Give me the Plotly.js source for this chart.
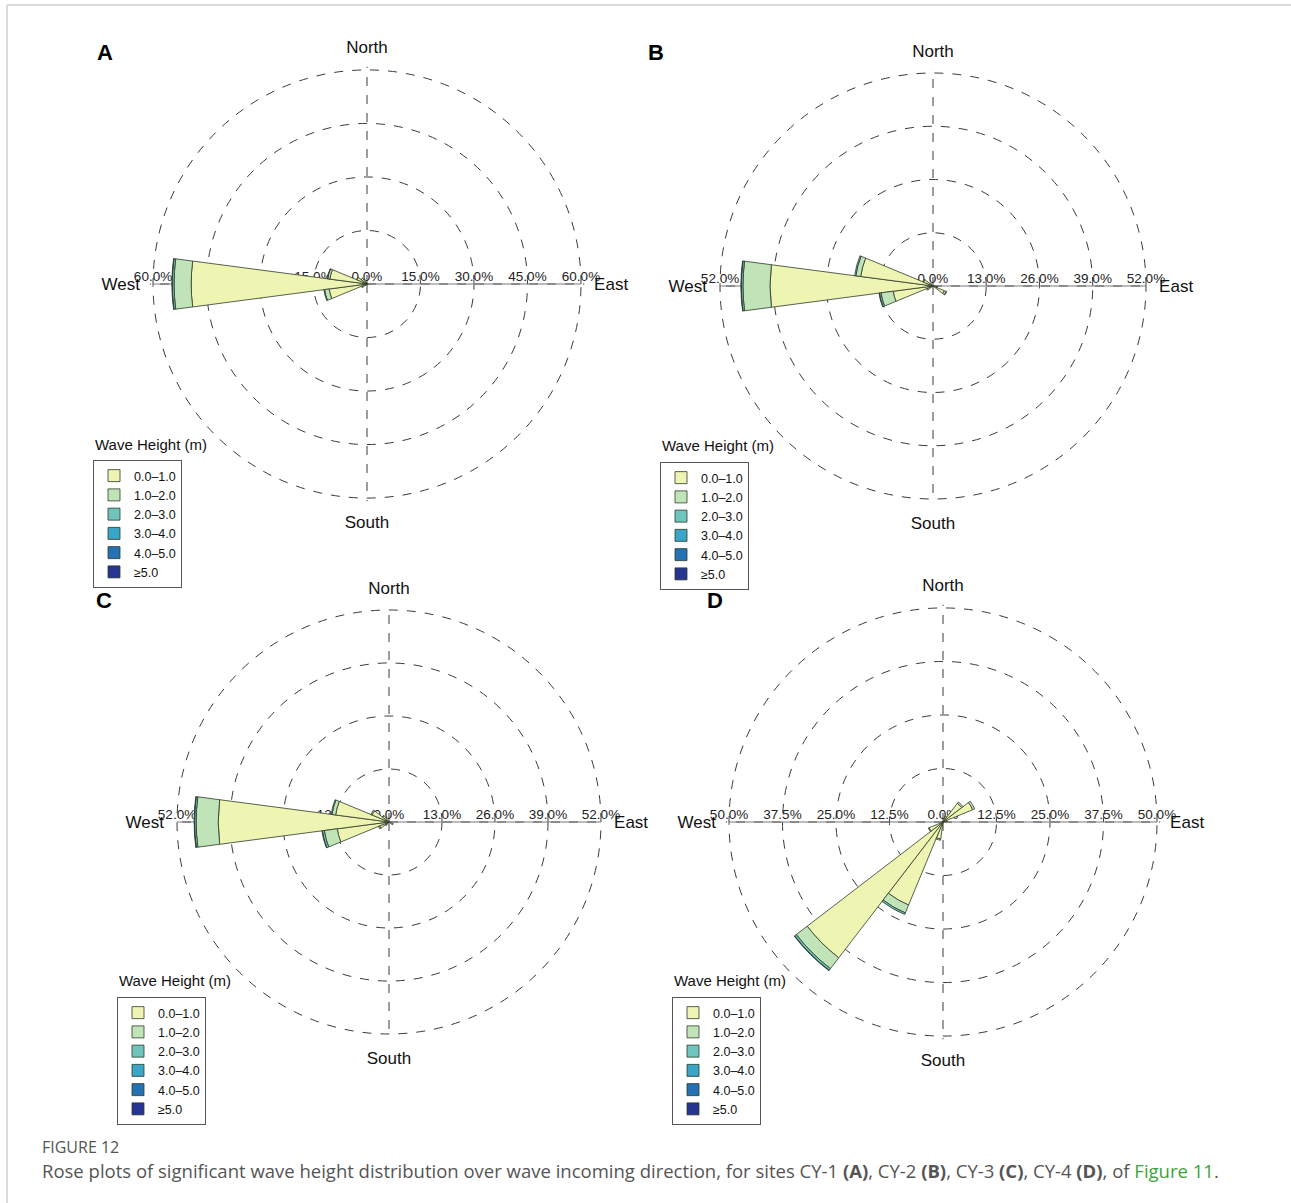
<!DOCTYPE html>
<html>
<head>
<meta charset="utf-8">
<script src="https://cdn.plot.ly/plotly-3.0.1.min.js"></script>
<style>
html,body{margin:0;padding:0;background:#fff;}
#chart{width:1291px;height:1203px;}
</style>
</head>
<body>
<div id="chart"></div>
<script>
// ---------------- DATA ----------------
const classLabels = ['0.0–1.0', '1.0–2.0', '2.0–3.0', '3.0–4.0', '4.0–5.0', '≥5.0'];
const directionLabels = ['North', 'East', 'South', 'West'];
const directionAngles = [0, 90, 180, 270];

// Site CY-1 (A)
const dirA = [225, 240, 255, 270, 285, 300, 315, 330, 105];
const A_h1 = [0.6, 1.5, 10.7, 49.3, 10.5, 3.0, 2.0, 0.7, 0.4];
const A_h2 = [0.0, 0.2, 1.3, 4.8, 0.6, 0.2, 0.1, 0.0, 0.0];
const A_h3 = [0.0, 0.0, 0.2, 0.5, 0.1, 0.0, 0.0, 0.0, 0.0];
const A_h4 = [0.0, 0.0, 0.0, 0.1, 0.0, 0.0, 0.0, 0.0, 0.0];
const A_h5 = [0, 0, 0, 0, 0, 0, 0, 0, 0];
const A_h6 = [0, 0, 0, 0, 0, 0, 0, 0, 0];
const A_ticks = [15, 30, 45, 60];

// Site CY-2 (B)
const dirB = [240, 255, 270, 285, 300, 315, 105, 120];
const B_h1 = [1.5, 9.8, 39.8, 17.8, 2.5, 1.0, 1.0, 3.0];
const B_h2 = [0.2, 3.0, 6.6, 1.2, 0.2, 0.0, 0.1, 0.5];
const B_h3 = [0.0, 0.4, 0.4, 0.3, 0.0, 0.0, 0.0, 0.1];
const B_h4 = [0.0, 0.1, 0.1, 0.0, 0.0, 0.0, 0.0, 0.0];
const B_h5 = [0, 0, 0, 0, 0, 0, 0, 0];
const B_h6 = [0, 0, 0, 0, 0, 0, 0, 0];
const B_ticks = [13, 26, 39, 52];

// Site CY-3 (C)
const dirC = [225, 240, 255, 270, 285, 300, 315, 120];
const C_h1 = [1.0, 2.5, 12.8, 41.9, 13.2, 4.5, 2.0, 1.0];
const C_h2 = [0.1, 0.3, 3.2, 5.4, 0.9, 0.3, 0.1, 0.1];
const C_h3 = [0.0, 0.0, 0.5, 0.4, 0.2, 0.0, 0.0, 0.0];
const C_h4 = [0.0, 0.0, 0.1, 0.1, 0.0, 0.0, 0.0, 0.0];
const C_h5 = [0, 0, 0, 0, 0, 0, 0, 0];
const C_h6 = [0, 0, 0, 0, 0, 0, 0, 0];
const C_ticks = [13, 26, 39, 52];

// Site CY-4 (D)
const dirD = [30, 45, 60, 75, 195, 210, 225, 240];
const D_h1 = [1.5, 5.5, 7.5, 1.0, 4.0, 21.0, 40.0, 3.5];
const D_h2 = [0.0, 0.4, 0.5, 0.0, 0.3, 2.0, 3.2, 0.2];
const D_h3 = [0.0, 0.0, 0.0, 0.0, 0.0, 0.4, 0.5, 0.0];
const D_h4 = [0.0, 0.0, 0.0, 0.0, 0.0, 0.0, 0.1, 0.0];
const D_h5 = [0, 0, 0, 0, 0, 0, 0, 0];
const D_h6 = [0, 0, 0, 0, 0, 0, 0, 0];
const D_ticks = [12.5, 25, 37.5, 50];

// ---------------- STYLE ----------------
const classColors = ['#eef5b2', '#c0e4b8', '#6fc5bd', '#3aa5c6', '#2471b3', '#263492'];
const W = 1291, H = 1203;
const FONT = 'Liberation Sans, Arial, sans-serif';
const PADF = 1.015; // lets the outermost dashed ring fall inside the radial range

const panels = [
  {id: 'A', dirs: dirA, h: [A_h1, A_h2, A_h3, A_h4, A_h5, A_h6], ticks: A_ticks, cx: 367, cy: 284, R: 214, legXY: [93, 460], letterXY: [105, 52]},
  {id: 'B', dirs: dirB, h: [B_h1, B_h2, B_h3, B_h4, B_h5, B_h6], ticks: B_ticks, cx: 933, cy: 286, R: 213, legXY: [660, 462], letterXY: [656, 52]},
  {id: 'C', dirs: dirC, h: [C_h1, C_h2, C_h3, C_h4, C_h5, C_h6], ticks: C_ticks, cx: 389, cy: 822, R: 212, legXY: [117, 997], letterXY: [104, 601]},
  {id: 'D', dirs: dirD, h: [D_h1, D_h2, D_h3, D_h4, D_h5, D_h6], ticks: D_ticks, cx: 943, cy: 822, R: 214, legXY: [672, 997], letterXY: [715, 601]}
];

const fx = px => px / W;
const fy = py => 1 - py / H;
const fmt = v => v.toFixed(1) + '%';

const underTraces = [];
const barTraces = [];
const layout = {
  width: W, height: H,
  margin: {l: 0, r: 0, t: 0, b: 0},
  paper_bgcolor: '#ffffff',
  font: {family: FONT, color: '#111'},
  annotations: [],
  shapes: [
    {type: 'line', xref: 'paper', yref: 'paper', x0: fx(7), x1: 1, y0: fy(5), y1: fy(5), line: {color: '#cfcfcf', width: 1.5}},
    {type: 'line', xref: 'paper', yref: 'paper', x0: fx(7), x1: fx(7), y0: fy(5), y1: 0, line: {color: '#cfcfcf', width: 1.5}}
  ]
};

panels.forEach((p, i) => {
  const uid = i === 0 ? 'polar' : 'polar' + (i + 1);   // underlay: rings, labels, axis line
  const bid = 'polar' + (i + 5);                         // bars on top
  const lid = i === 0 ? 'legend' : 'legend' + (i + 1);
  const rmax = p.ticks[p.ticks.length - 1];
  const Rp = p.R * PADF;
  const domain = {x: [fx(p.cx - Rp), fx(p.cx + Rp)], y: [fy(p.cy + Rp), fy(p.cy - Rp)]};

  layout[uid] = {
    domain: domain,
    bgcolor: 'rgba(0,0,0,0)',
    radialaxis: {
      range: [0, rmax * PADF], tickvals: p.ticks, showticklabels: false, ticks: '',
      showline: false, showgrid: true, gridcolor: '#3a3a3a', gridwidth: 1, griddash: 'dash'
    },
    angularaxis: {
      direction: 'clockwise', rotation: 90,
      tickvals: directionAngles, ticktext: directionLabels,
      ticks: 'outside', ticklen: 6, tickcolor: 'rgba(0,0,0,0)',
      showline: false, showgrid: true, gridcolor: '#3a3a3a', gridwidth: 1, griddash: 'dash',
      tickfont: {size: 17, color: '#111', family: FONT}
    }
  };
  layout[bid] = {
    domain: domain,
    bgcolor: 'rgba(0,0,0,0)',
    barmode: 'stack',
    bargap: 0,
    radialaxis: {range: [0, rmax * PADF], visible: false, showgrid: false, showline: false, showticklabels: false, ticks: ''},
    angularaxis: {direction: 'clockwise', rotation: 90, showgrid: false, showline: false, showticklabels: false, ticks: ''}
  };

  // solid east-west axis line
  underTraces.push({
    type: 'scatterpolar', subplot: uid, mode: 'lines',
    r: [rmax, 0, rmax], theta: [270, 0, 90],
    line: {color: '#7a7a7a', width: 1.2},
    hoverinfo: 'skip', showlegend: false
  });

  // radial tick labels on both sides
  const labR = [0].concat(p.ticks, p.ticks);
  const labT = [0].concat(p.ticks.map(() => 90), p.ticks.map(() => 270));
  underTraces.push({
    type: 'scatterpolar', subplot: uid, mode: 'text',
    r: labR, theta: labT, text: labR.map(fmt),
    textposition: 'top center',
    textfont: {size: 13.5, color: '#222', family: FONT},
    hoverinfo: 'skip', showlegend: false
  });

  // stacked bars
  for (let k = 0; k < 6; k++) {
    barTraces.push({
      type: 'barpolar', subplot: bid, legend: lid,
      name: classLabels[k],
      r: p.h[k], theta: p.dirs, width: 15,
      marker: {color: classColors[k], line: {color: '#2e3a2a', width: 0.8}},
      hovertemplate: classLabels[k] + ' m: %{r:.1f}%<extra></extra>'
    });
  }

  layout[lid] = {
    x: fx(p.legXY[0]), y: fy(p.legXY[1]), xanchor: 'left', yanchor: 'top',
    bgcolor: '#ffffff', bordercolor: '#555', borderwidth: 1,
    font: {size: 12.5, color: '#111', family: FONT},
    traceorder: 'normal', itemclick: false, itemdoubleclick: false
  };

  layout.annotations.push({
    xref: 'paper', yref: 'paper', x: fx(p.legXY[0]), y: fy(p.legXY[1] - 16),
    xanchor: 'left', yanchor: 'middle', showarrow: false,
    text: 'Wave Height (m)', font: {size: 15, color: '#111', family: FONT}
  });

  layout.annotations.push({
    xref: 'paper', yref: 'paper', x: fx(p.letterXY[0]), y: fy(p.letterXY[1]),
    xanchor: 'center', yanchor: 'middle', showarrow: false,
    text: '<b>' + p.id + '</b>', font: {size: 22, color: '#000', family: FONT}
  });
});

// caption
layout.annotations.push({
  xref: 'paper', yref: 'paper', x: fx(40), y: fy(1147), xanchor: 'left', yanchor: 'middle', showarrow: false,
  text: 'FIGURE 12', font: {size: 16, color: '#555', family: 'Open Sans, sans-serif'}
});
layout.annotations.push({
  xref: 'paper', yref: 'paper', x: fx(40), y: fy(1170), xanchor: 'left', yanchor: 'middle', showarrow: false,
  text: 'Rose plots of significant wave height distribution over wave incoming direction, for sites CY-1 <b>(A)</b>, CY-2 <b>(B)</b>, CY-3 <b>(C)</b>, CY-4 <b>(D)</b>, of <span style="color:#3aa53a">Figure 11</span>.',
  font: {size: 18.5, color: '#555', family: 'Open Sans, sans-serif'}
});

Plotly.newPlot('chart', underTraces.concat(barTraces), layout, {displayModeBar: false, staticPlot: true});
</script>
</body>
</html>
